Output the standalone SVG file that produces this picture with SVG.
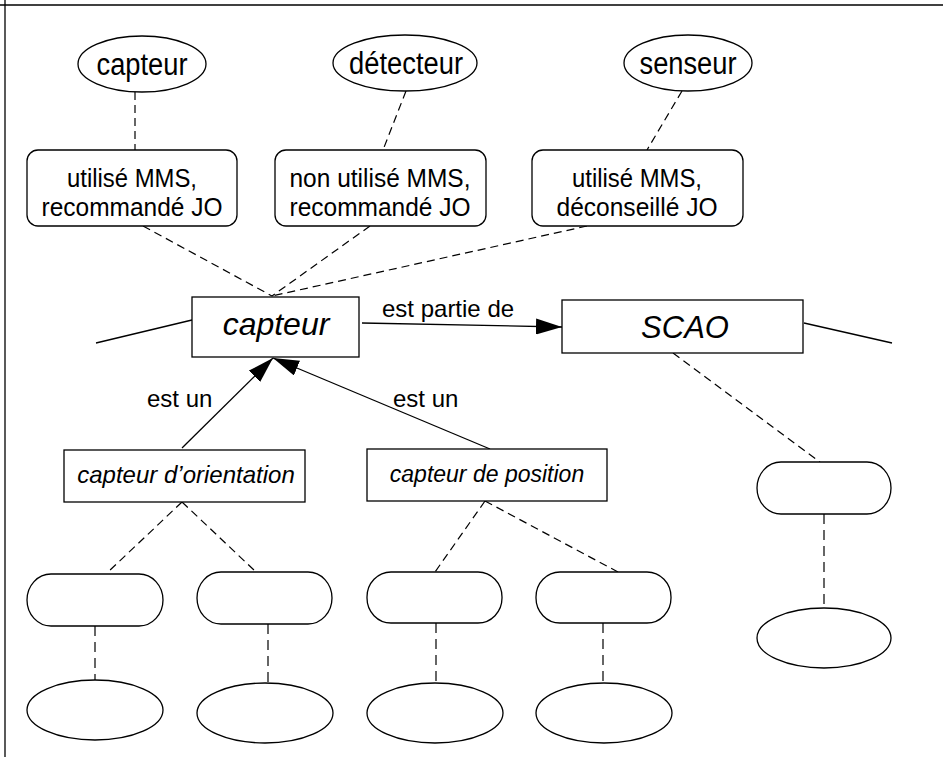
<svg xmlns="http://www.w3.org/2000/svg" width="943" height="757" viewBox="0 0 943 757">
<style>
.s{fill:#fff;stroke:#000;stroke-width:1.3}
.d{fill:none;stroke:#000;stroke-width:1.2;stroke-dasharray:8 5}
.dv{fill:none;stroke:#000;stroke-width:1.2;stroke-dasharray:10 6}
.l{fill:none;stroke:#000;stroke-width:1.3}
.t{font-family:"Liberation Sans",Arial,sans-serif;fill:#000}
.c{text-anchor:middle}
.i{font-style:italic}
</style>
<defs>
<marker id="ah" markerUnits="userSpaceOnUse" markerWidth="28" markerHeight="16" refX="26" refY="8" orient="auto">
<path d="M0,0 L26,8 L0,16 Z" fill="#000"/>
</marker>
</defs>
<rect width="943" height="757" fill="#fff"/>
<g id="frame">
<line class="l" x1="0" y1="5" x2="943" y2="5"/>
<line class="l" x1="5" y1="0" x2="5" y2="757"/>
</g>
<g id="connectors">
<line class="d" x1="135" y1="92" x2="135" y2="150"/>
<line class="d" x1="406" y1="91" x2="383" y2="150"/>
<line class="d" x1="682" y1="91" x2="647" y2="150"/>
<line class="d" x1="143" y1="226" x2="272" y2="296"/>
<line class="d" x1="370" y1="226" x2="272" y2="296"/>
<line class="d" x1="587" y1="226" x2="272" y2="296"/>
<line class="d" x1="673" y1="353" x2="820" y2="462"/>
<line class="d" x1="182" y1="502" x2="107" y2="573"/>
<line class="d" x1="182" y1="502" x2="255" y2="571"/>
<line class="d" x1="485" y1="501" x2="435" y2="572"/>
<line class="d" x1="485" y1="501" x2="618" y2="572"/>
<line class="dv" x1="95" y1="626" x2="95" y2="680"/>
<line class="dv" x1="268" y1="624" x2="268" y2="683"/>
<line class="dv" x1="436" y1="623" x2="436" y2="683"/>
<line class="dv" x1="603" y1="623" x2="603" y2="683"/>
<line class="dv" x1="824" y1="514" x2="824" y2="608"/>
<line class="l" x1="96" y1="343" x2="192" y2="320"/>
<line class="l" x1="804" y1="323" x2="892" y2="343"/>
<line class="l" x1="362" y1="323" x2="562" y2="327" marker-end="url(#ah)"/>
<line class="l" x1="182" y1="448" x2="273" y2="358" marker-end="url(#ah)"/>
<line class="l" x1="490" y1="449" x2="273" y2="358" marker-end="url(#ah)"/>
<text class="t" x="382" y="317" font-size="24">est partie de</text>
<text class="t" x="147" y="407" font-size="24">est un</text>
<text class="t" x="393" y="407" font-size="24">est un</text>
</g>
<g id="term-capteur">
<ellipse class="s" cx="142" cy="64" rx="64" ry="28"/>
<text class="t c" x="142" y="75" font-size="31" textLength="91" lengthAdjust="spacingAndGlyphs">capteur</text>
</g>
<g id="term-detecteur">
<ellipse class="s" cx="405" cy="63" rx="72" ry="28"/>
<text class="t c" x="406" y="74" font-size="31" textLength="114" lengthAdjust="spacingAndGlyphs">détecteur</text>
</g>
<g id="term-senseur">
<ellipse class="s" cx="688" cy="63" rx="64" ry="28"/>
<text class="t c" x="688" y="74" font-size="31" textLength="97" lengthAdjust="spacingAndGlyphs">senseur</text>
</g>
<g id="usage-1">
<rect class="s" x="27" y="150" width="210" height="76" rx="11"/>
<text class="t c" x="132" y="187" font-size="26" textLength="130" lengthAdjust="spacingAndGlyphs">utilisé MMS,</text>
<text class="t c" x="132" y="216" font-size="26" textLength="181" lengthAdjust="spacingAndGlyphs">recommandé JO</text>
</g>
<g id="usage-2">
<rect class="s" x="275" y="150" width="211" height="76" rx="11"/>
<text class="t c" x="380" y="187" font-size="26" textLength="181" lengthAdjust="spacingAndGlyphs">non utilisé MMS,</text>
<text class="t c" x="380" y="216" font-size="26" textLength="181" lengthAdjust="spacingAndGlyphs">recommandé JO</text>
</g>
<g id="usage-3">
<rect class="s" x="532" y="150" width="211" height="76" rx="11"/>
<text class="t c" x="637" y="187" font-size="26" textLength="130" lengthAdjust="spacingAndGlyphs">utilisé MMS,</text>
<text class="t c" x="637" y="216" font-size="26" textLength="161" lengthAdjust="spacingAndGlyphs">déconseillé JO</text>
</g>
<g id="concept-capteur">
<rect class="s" x="192" y="297" width="167" height="60"/>
<text class="t c i" x="276" y="335" font-size="32">capteur</text>
</g>
<g id="concept-scao">
<rect class="s" x="562" y="300" width="241" height="53"/>
<text class="t c i" x="685" y="338" font-size="31">SCAO</text>
</g>
<g id="concept-orientation">
<rect class="s" x="64" y="450" width="241" height="52"/>
<text class="t c i" x="186" y="483" font-size="24">capteur d’orientation</text>
</g>
<g id="concept-position">
<rect class="s" x="367" y="449" width="240" height="52"/>
<text class="t c i" x="487" y="482" font-size="23">capteur de position</text>
</g>
<g id="pill-1"><rect class="s" x="27" y="574" width="136" height="52" rx="24" ry="26"/></g>
<g id="pill-2"><rect class="s" x="197" y="572" width="135" height="52" rx="24" ry="26"/></g>
<g id="pill-3"><rect class="s" x="367" y="572" width="135" height="51" rx="24" ry="25"/></g>
<g id="pill-4"><rect class="s" x="536" y="572" width="135" height="51" rx="24" ry="25"/></g>
<g id="pill-5"><rect class="s" x="757" y="462" width="134" height="52" rx="24" ry="26"/></g>
<g id="ell-1"><ellipse class="s" cx="95" cy="710" rx="68" ry="30"/></g>
<g id="ell-2"><ellipse class="s" cx="265" cy="713" rx="68" ry="30"/></g>
<g id="ell-3"><ellipse class="s" cx="435" cy="713" rx="68" ry="30"/></g>
<g id="ell-4"><ellipse class="s" cx="604" cy="713" rx="68" ry="30"/></g>
<g id="ell-5"><ellipse class="s" cx="824" cy="638" rx="67" ry="30"/></g>
</svg>
